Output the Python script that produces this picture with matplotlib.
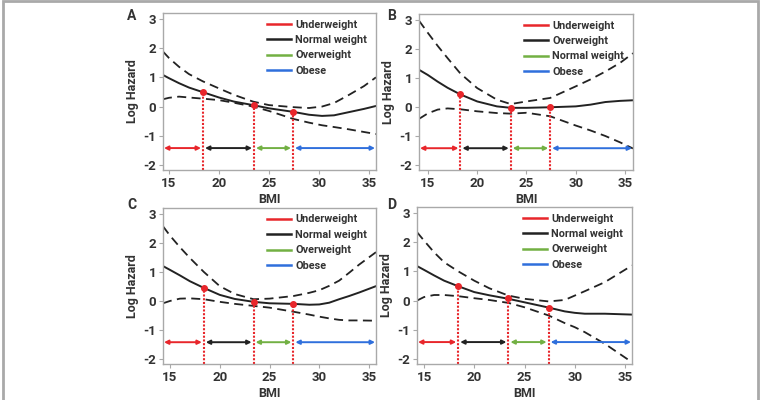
import matplotlib
matplotlib.use("Agg")
import matplotlib.pyplot as plt
from matplotlib.patches import Rectangle

plt.rcParams['font.family'] = ['Roboto', 'DejaVu Sans']

# BMI values where curves were read
bmi_a = [14.4, 15, 16, 17, 18.4, 20, 21.5, 23.4, 25, 27.4, 29, 30.3, 31.5, 33, 34.5, 35.7]
fit_a = [1.08, 0.97, 0.80, 0.65, 0.49, 0.31, 0.17, 0.05, -0.06, -0.18, -0.28, -0.32, -0.30, -0.19, -0.08, 0.02]
upper_a = [1.88, 1.66, 1.36, 1.11, 0.86, 0.62, 0.40, 0.17, 0.05, -0.02, -0.05, 0.00, 0.12, 0.40, 0.70, 1.00]
lower_a = [0.25, 0.30, 0.34, 0.31, 0.27, 0.22, 0.13, 0.00, -0.15, -0.42, -0.55, -0.64, -0.70, -0.78, -0.87, -0.94]

bmi_b = [14.1, 15, 16, 17, 18.3, 20, 22, 23.4, 25, 27.4, 30, 31.5, 33, 34.5, 35.8]
fit_b = [1.28, 1.10, 0.87, 0.66, 0.43, 0.19, 0.02, -0.03, -0.03, -0.01, 0.02, 0.08, 0.17, 0.21, 0.23]
upper_b = [2.97, 2.55, 2.10, 1.68, 1.15, 0.65, 0.25, 0.10, 0.19, 0.31, 0.71, 0.95, 1.22, 1.52, 1.85]
lower_b = [-0.41, -0.22, -0.09, -0.05, -0.08, -0.15, -0.21, -0.23, -0.20, -0.32, -0.64, -0.81, -1.00, -1.22, -1.43]

bmi_c = [14.3, 15, 16, 17, 18.4, 20, 21.5, 23.4, 25, 27.4, 29, 30, 31, 32, 33, 34, 35.7]
fit_c = [1.20, 1.07, 0.88, 0.68, 0.45, 0.21, 0.07, -0.03, -0.08, -0.10, -0.13, -0.12, -0.06, 0.06, 0.17, 0.29, 0.51]
upper_c = [2.57, 2.25, 1.85, 1.48, 1.00, 0.51, 0.24, 0.06, 0.08, 0.17, 0.28, 0.37, 0.52, 0.70, 0.97, 1.25, 1.68]
lower_c = [-0.08, 0.00, 0.08, 0.09, 0.06, -0.03, -0.10, -0.17, -0.23, -0.37, -0.47, -0.54, -0.60, -0.65, -0.67, -0.67, -0.68]

bmi_d = [14.3, 15, 16, 17, 18.4, 20, 21.5, 23.4, 25, 27.4, 29, 30, 31, 33, 35.7]
fit_d = [1.18, 1.05, 0.86, 0.68, 0.49, 0.29, 0.18, 0.06, -0.06, -0.24, -0.37, -0.42, -0.45, -0.45, -0.48]
upper_d = [2.34, 2.05, 1.65, 1.31, 1.00, 0.68, 0.42, 0.17, 0.06, -0.03, 0.02, 0.17, 0.32, 0.63, 1.20]
lower_d = [0.00, 0.12, 0.19, 0.19, 0.15, 0.08, 0.02, -0.08, -0.23, -0.51, -0.77, -0.91, -1.08, -1.48, -2.11]

# cut-off points (red dots)
cut_x_a = [18.4, 23.5, 27.4]
cut_y_a = [0.49, 0.04, -0.20]
cut_x_b = [18.3, 23.4, 27.4]
cut_y_b = [0.43, -0.03, -0.01]
cut_x_c = [18.4, 23.4, 27.4]
cut_y_c = [0.45, -0.03, -0.10]
cut_x_d = [18.4, 23.4, 27.4]
cut_y_d = [0.49, 0.08, -0.24]

legend_labels_a = ["Underweight", "Normal weight", "Overweight", "Obese"]
legend_labels_b = ["Underweight", "Overweight", "Normal weight", "Obese"]
panel_letters = ["A", "B", "C", "D"]

RED = "#e8262b"
BLACK = "#222222"
GREEN = "#72b043"
BLUE = "#2f6fdc"
GRAY = "#a9a9a9"
TXT = "#333333"

panels = [
    (bmi_a, fit_a, upper_a, lower_a, cut_x_a, cut_y_a, legend_labels_a, (14.4, 35.7)),
    (bmi_b, fit_b, upper_b, lower_b, cut_x_b, cut_y_b, legend_labels_b, (14.1, 35.8)),
    (bmi_c, fit_c, upper_c, lower_c, cut_x_c, cut_y_c, legend_labels_a, (14.3, 35.7)),
    (bmi_d, fit_d, upper_d, lower_d, cut_x_d, cut_y_d, legend_labels_a, (14.3, 35.7)),
]

fig = plt.figure(figsize=(7.61, 4.0), dpi=100)
positions = [
    [163 / 761, 1 - 170 / 400, 213 / 761, 157 / 400],
    [419 / 761, 1 - 170 / 400, 214 / 761, 156 / 400],
    [163 / 761, 1 - 364 / 400, 213 / 761, 156 / 400],
    [417 / 761, 1 - 364 / 400, 215 / 761, 157 / 400],
]

for i, (bmi, fit, up, lo, cx, cy, labels, xl) in enumerate(panels):
    ax = fig.add_axes(positions[i])
    ax.set_xlim(*xl)
    ax.set_ylim(-2.17, 3.2)

    ax.plot(bmi, up, color=BLACK, lw=1.3, ls=(0, (5, 3)))
    ax.plot(bmi, lo, color=BLACK, lw=1.3, ls=(0, (5, 3)))
    ax.plot(bmi, fit, color=BLACK, lw=1.4)

    for c, py in zip(cx, cy):
        ax.plot([c, c], [-2.17, py], color=RED, lw=1.5, ls=(0, (1, 0.8)))
        ax.plot(c, py, 'o', color=RED, ms=4, zorder=5)

    # range arrows
    bounds = [xl[0] + 0.1] + cx + [xl[1] - 0.1]
    arrow_cols = [RED, BLACK, GREEN, BLUE]
    for j in range(4):
        x0 = bounds[j] + (0.2 if j > 0 else 0)
        x1 = bounds[j + 1] - (0.2 if j < 3 else 0)
        ax.annotate("", xy=(x1, -1.42), xytext=(x0, -1.42),
                    arrowprops=dict(arrowstyle="<|-|>", color=arrow_cols[j], lw=1.4,
                                    mutation_scale=6, shrinkA=0, shrinkB=0))

    handles = [plt.Line2D([], [], color=c, lw=1.8) for c in arrow_cols]
    leg = ax.legend(handles, labels, loc="upper right", frameon=False,
                    prop={'size': 7.8, 'weight': 'bold'}, handlelength=2.2,
                    handletextpad=0.45, labelspacing=0.5, borderaxespad=0.2,
                    bbox_to_anchor=(0.99, 1.0))
    for t in leg.get_texts():
        t.set_color(TXT)

    ax.set_xticks([15, 20, 25, 30, 35])
    ax.set_yticks([3, 2, 1, 0, -1, -2])
    ax.set_yticklabels(["3", "2", "1", "0", "-1", "-2"])
    ax.tick_params(labelsize=9.5, colors=GRAY, labelcolor=TXT, length=3, width=0.8, pad=2)
    for lab in ax.get_xticklabels() + ax.get_yticklabels():
        lab.set_fontweight('bold')
    for s in ax.spines.values():
        s.set_color(GRAY)
        s.set_linewidth(1)
    ax.set_xlabel("BMI", fontsize=9, color=TXT, labelpad=2, fontweight='bold')
    ax.set_ylabel("Log Hazard", fontsize=9, color=TXT, labelpad=3, fontweight='bold')

lx = [132 / 761, 392 / 761, 132 / 761, 392 / 761]
ly = [1 - 16 / 400, 1 - 16 / 400, 1 - 205 / 400, 1 - 205 / 400]
for k, letter in enumerate(panel_letters):
    fig.text(lx[k], ly[k], letter, fontsize=10, color=TXT, ha="center", va="center",
             fontweight="bold")

fig.patches.append(Rectangle((3 / 761, -0.05), 755 / 761, 1.05 - 1.5 / 400,
                             transform=fig.transFigure, fill=False,
                             edgecolor=GRAY, lw=2, clip_on=False))

fig.savefig("out.png", dpi=100)
